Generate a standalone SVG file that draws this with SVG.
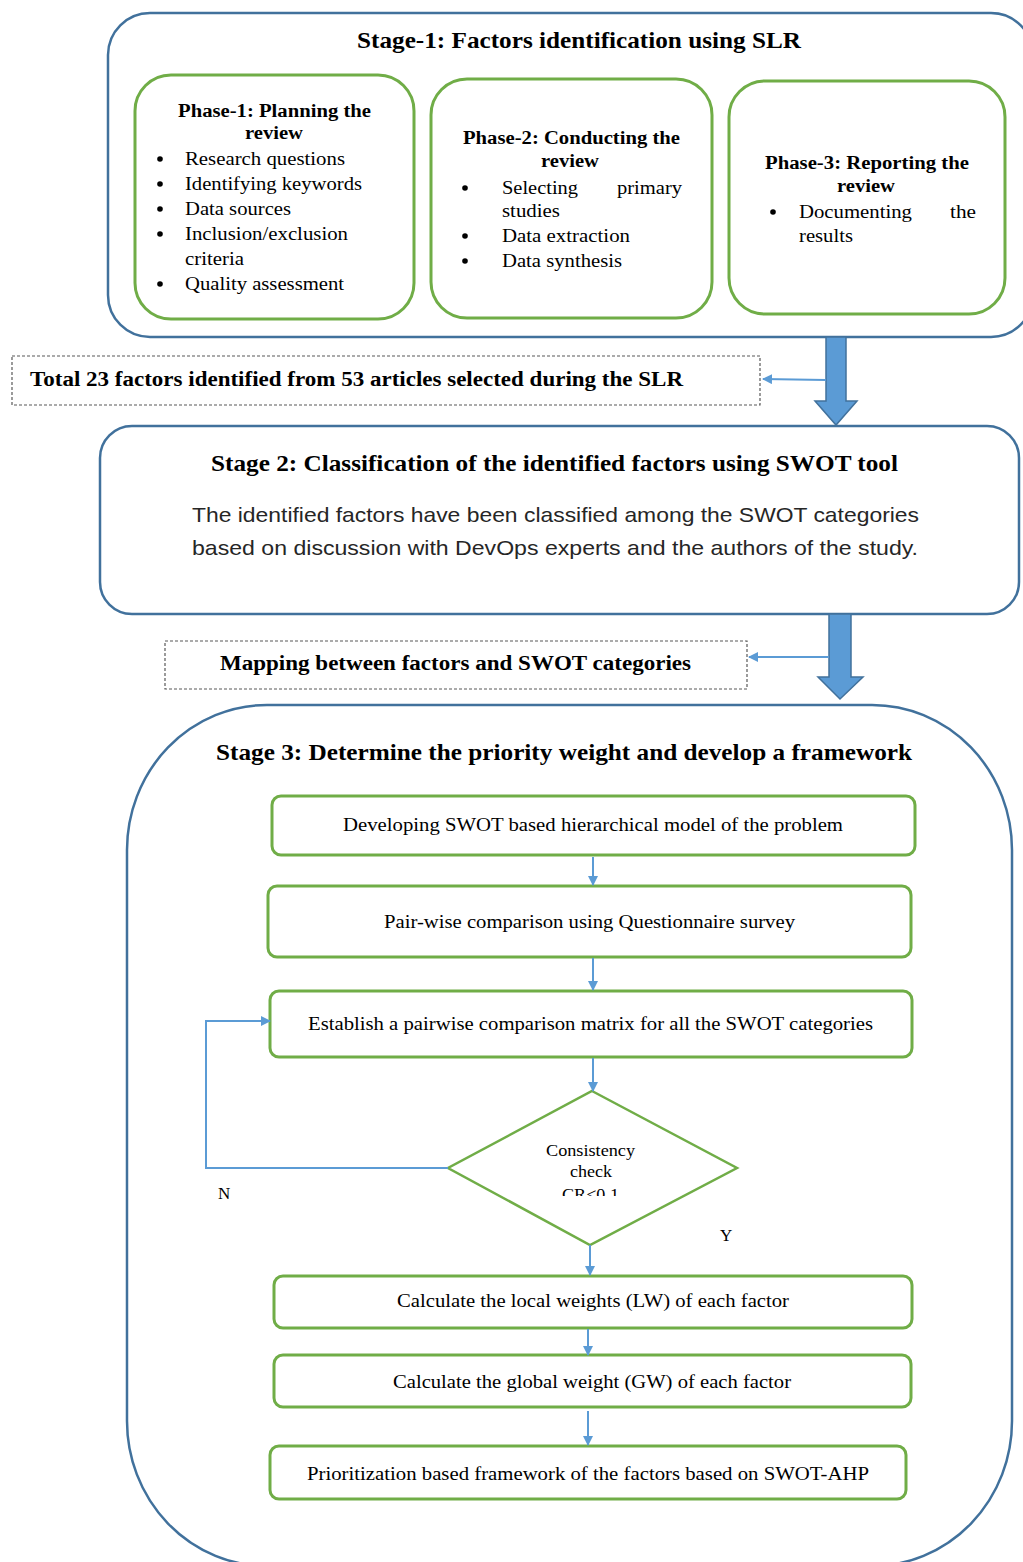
<svg xmlns="http://www.w3.org/2000/svg" width="1023" height="1562" viewBox="0 0 1023 1562">
  <style>
    .stage { fill: #ffffff; stroke: #41719C; stroke-width: 2.5; }
    .phase { fill: #ffffff; stroke: #70AD47; stroke-width: 3; }
    .step { fill: #ffffff; stroke: #70AD47; stroke-width: 3; }
    .note { fill: #ffffff; stroke: #595959; stroke-width: 1.2; stroke-dasharray: 3 2; }
    .serif { font-family: "Liberation Serif", "Times New Roman", serif; fill: #000; }
    .bold { font-weight: bold; }
    .sans { font-family: "Liberation Sans", Arial, sans-serif; fill: #262626; }
    .thin { fill: none; stroke: #5B9BD5; stroke-width: 2; }
    .block { fill: #5B9BD5; stroke: #41719C; stroke-width: 1.5; }
  </style>
  <defs>
    <marker id="head" viewBox="0 0 10 10" refX="9" refY="5" markerWidth="5" markerHeight="5" orient="auto-start-reverse">
      <path d="M0,0 L10,5 L0,10 z" fill="#5B9BD5"/>
    </marker>
    <clipPath id="diamondText">
      <rect x="500" y="1130" width="180" height="66"/>
    </clipPath>
  </defs>

  <!-- Stage 1 -->
  <g id="stage1">
    <rect class="stage" x="108" y="13" width="925" height="324" rx="42" ry="42"/>
    <text class="serif bold" x="357" y="48" font-size="23" textLength="444" lengthAdjust="spacingAndGlyphs">Stage-1: Factors identification using SLR</text>
  </g>

  <g id="phase1">
    <rect class="phase" x="135" y="75" width="279" height="244" rx="36" ry="36"/>
    <text class="serif bold" x="178" y="117" font-size="18" textLength="193" lengthAdjust="spacingAndGlyphs">Phase-1: Planning the</text>
    <text class="serif bold" x="245" y="139" font-size="18" textLength="58" lengthAdjust="spacingAndGlyphs">review</text>
    <g fill="#000">
      <circle cx="160" cy="159" r="2.8"/>
      <circle cx="160" cy="184" r="2.8"/>
      <circle cx="160" cy="209" r="2.8"/>
      <circle cx="160" cy="234" r="2.8"/>
      <circle cx="160" cy="284" r="2.8"/>
    </g>
    <text class="serif" x="185" y="165" font-size="18" textLength="160" lengthAdjust="spacingAndGlyphs">Research questions</text>
    <text class="serif" x="185" y="190" font-size="18" textLength="177" lengthAdjust="spacingAndGlyphs">Identifying keywords</text>
    <text class="serif" x="185" y="215" font-size="18" textLength="106" lengthAdjust="spacingAndGlyphs">Data sources</text>
    <text class="serif" x="185" y="240" font-size="18" textLength="163" lengthAdjust="spacingAndGlyphs">Inclusion/exclusion</text>
    <text class="serif" x="185" y="265" font-size="18" textLength="59" lengthAdjust="spacingAndGlyphs">criteria</text>
    <text class="serif" x="185" y="290" font-size="18" textLength="159" lengthAdjust="spacingAndGlyphs">Quality assessment</text>
  </g>

  <g id="phase2">
    <rect class="phase" x="431" y="79" width="281" height="239" rx="36" ry="36"/>
    <text class="serif bold" x="463" y="144" font-size="18" textLength="217" lengthAdjust="spacingAndGlyphs">Phase-2: Conducting the</text>
    <text class="serif bold" x="541" y="167" font-size="18" textLength="58" lengthAdjust="spacingAndGlyphs">review</text>
    <g fill="#000">
      <circle cx="465" cy="188" r="2.8"/>
      <circle cx="465" cy="236" r="2.8"/>
      <circle cx="465" cy="261" r="2.8"/>
    </g>
    <text class="serif" x="502" y="194" font-size="18" textLength="76" lengthAdjust="spacingAndGlyphs">Selecting</text>
    <text class="serif" x="617" y="194" font-size="18" textLength="65" lengthAdjust="spacingAndGlyphs">primary</text>
    <text class="serif" x="502" y="217" font-size="18" textLength="58" lengthAdjust="spacingAndGlyphs">studies</text>
    <text class="serif" x="502" y="242" font-size="18" textLength="128" lengthAdjust="spacingAndGlyphs">Data extraction</text>
    <text class="serif" x="502" y="267" font-size="18" textLength="120" lengthAdjust="spacingAndGlyphs">Data synthesis</text>
  </g>

  <g id="phase3">
    <rect class="phase" x="729" y="81" width="276" height="233" rx="36" ry="36"/>
    <text class="serif bold" x="765" y="169" font-size="18" textLength="204" lengthAdjust="spacingAndGlyphs">Phase-3: Reporting the</text>
    <text class="serif bold" x="837" y="192" font-size="18" textLength="58" lengthAdjust="spacingAndGlyphs">review</text>
    <circle cx="773" cy="212" r="2.8" fill="#000"/>
    <text class="serif" x="799" y="218" font-size="18" textLength="113" lengthAdjust="spacingAndGlyphs">Documenting</text>
    <text class="serif" x="950" y="218" font-size="18" textLength="26" lengthAdjust="spacingAndGlyphs">the</text>
    <text class="serif" x="799" y="242" font-size="18" textLength="54" lengthAdjust="spacingAndGlyphs">results</text>
  </g>

  <!-- Output of stage 1 -->
  <g id="note1">
    <rect class="note" x="12" y="356" width="748" height="49"/>
    <text class="serif bold" x="30" y="386" font-size="20" textLength="653" lengthAdjust="spacingAndGlyphs">Total 23 factors identified from 53 articles selected during the SLR</text>
  </g>

  <!-- Stage 2 -->
  <g id="stage2">
    <rect class="stage" x="100" y="426" width="919" height="188" rx="32" ry="32"/>
    <text class="serif bold" x="211" y="471" font-size="23" textLength="687" lengthAdjust="spacingAndGlyphs">Stage 2: Classification of the identified factors using SWOT tool</text>
    <text class="sans" x="192" y="522" font-size="21" textLength="727" lengthAdjust="spacingAndGlyphs">The identified factors have been classified among the SWOT categories</text>
    <text class="sans" x="192" y="555" font-size="21" textLength="726" lengthAdjust="spacingAndGlyphs">based on discussion with DevOps experts and the authors of the study.</text>
  </g>

  <!-- Output of stage 2 -->
  <g id="note2">
    <rect class="note" x="165" y="641" width="582" height="48"/>
    <text class="serif bold" x="220" y="670" font-size="20" textLength="471" lengthAdjust="spacingAndGlyphs">Mapping between factors and SWOT categories</text>
  </g>

  <!-- Stage 3 -->
  <g id="stage3">
    <rect class="stage" x="127" y="705" width="885" height="861" rx="140" ry="145"/>
    <text class="serif bold" x="216" y="760" font-size="23" textLength="696" lengthAdjust="spacingAndGlyphs">Stage 3: Determine the priority weight and develop a framework</text>
  </g>

  <g id="stepModel">
    <rect class="step" x="272" y="796" width="643" height="59" rx="9" ry="9"/>
    <text class="serif" x="343" y="831" font-size="18" textLength="500" lengthAdjust="spacingAndGlyphs">Developing SWOT based hierarchical model of the problem</text>
  </g>
  <g id="stepSurvey">
    <rect class="step" x="268" y="886" width="643" height="71" rx="9" ry="9"/>
    <text class="serif" x="384" y="928" font-size="18" textLength="411" lengthAdjust="spacingAndGlyphs">Pair-wise comparison using Questionnaire survey</text>
  </g>
  <g id="stepMatrix">
    <rect class="step" x="270" y="991" width="642" height="66" rx="9" ry="9"/>
    <text class="serif" x="308" y="1030" font-size="18" textLength="565" lengthAdjust="spacingAndGlyphs">Establish a pairwise comparison matrix for all the SWOT categories</text>
  </g>
  <g id="consistencyCheck">
    <polygon points="592,1091 737,1168 590,1245 448,1168" fill="#ffffff" stroke="#70AD47" stroke-width="2.5"/>
    <g clip-path="url(#diamondText)">
      <text class="serif" x="546" y="1156" font-size="16" textLength="89" lengthAdjust="spacingAndGlyphs">Consistency</text>
      <text class="serif" x="570" y="1177" font-size="16" textLength="42" lengthAdjust="spacingAndGlyphs">check</text>
      <text class="serif" x="562" y="1200" font-size="16" textLength="57" lengthAdjust="spacingAndGlyphs">CR&lt;0.1</text>
    </g>
  </g>
  <g id="stepLocal">
    <rect class="step" x="274" y="1276" width="638" height="52" rx="9" ry="9"/>
    <text class="serif" x="397" y="1307" font-size="18" textLength="392" lengthAdjust="spacingAndGlyphs">Calculate the local weights (LW) of each factor</text>
  </g>
  <g id="stepGlobal">
    <rect class="step" x="274" y="1355" width="637" height="52" rx="9" ry="9"/>
    <text class="serif" x="393" y="1388" font-size="18" textLength="398" lengthAdjust="spacingAndGlyphs">Calculate the global weight (GW) of each factor</text>
  </g>
  <g id="stepFramework">
    <rect class="step" x="270" y="1446" width="636" height="53" rx="9" ry="9"/>
    <text class="serif" x="307" y="1480" font-size="18" textLength="562" lengthAdjust="spacingAndGlyphs">Prioritization based framework of the factors based on SWOT-AHP</text>
  </g>

  <!-- Connectors -->
  <g id="connectors">
    <!-- block arrows between stages -->
    <path class="block" d="M826,337 L846,337 L846,401 L857,401 L836,425 L815,401 L826,401 Z"/>
    <path class="block" d="M829,614 L851,614 L851,677 L863,677 L840,699 L818,677 L829,677 Z"/>
    <!-- side outputs -->
    <line class="thin" x1="826" y1="380" x2="763" y2="379" marker-end="url(#head)"/>
    <line class="thin" x1="829" y1="657" x2="749" y2="657" marker-end="url(#head)"/>
    <!-- flow inside stage 3 -->
    <line class="thin" x1="593" y1="857" x2="593" y2="885" marker-end="url(#head)"/>
    <line class="thin" x1="593" y1="958" x2="593" y2="990" marker-end="url(#head)"/>
    <line class="thin" x1="593" y1="1058" x2="593" y2="1091" marker-end="url(#head)"/>
    <line class="thin" x1="590" y1="1245" x2="590" y2="1275" marker-end="url(#head)"/>
    <line class="thin" x1="588" y1="1329" x2="588" y2="1355" marker-end="url(#head)"/>
    <line class="thin" x1="588" y1="1411" x2="588" y2="1445" marker-end="url(#head)"/>
    <!-- rework loop when the check fails -->
    <polyline class="thin" points="448,1168 206,1168 206,1021 270,1021" marker-end="url(#head)"/>
    <text class="serif" x="218" y="1199" font-size="17">N</text>
    <text class="serif" x="720" y="1241" font-size="17">Y</text>
  </g>
</svg>
